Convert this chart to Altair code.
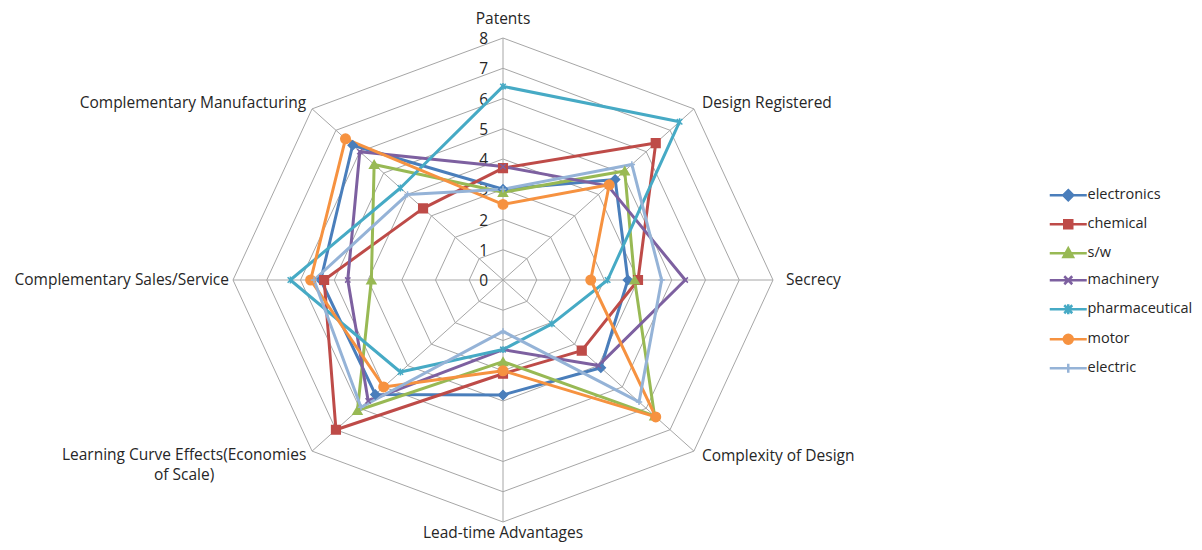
import altair as alt
import pandas as pd
import numpy as np

# ---------------- data ----------------
categories = [
    "Patents",
    "Design Registered",
    "Secrecy",
    "Complexity of Design",
    "Lead-time Advantages",
    "Learning Curve Effects(Economies\nof Scale)",
    "Complementary Sales/Service",
    "Complementary Manufacturing",
]
series = ["electronics", "chemical", "s/w", "machinery", "pharmaceutical", "motor", "electric"]

electronics = [3.0, 4.7, 3.7, 4.1, 3.8, 5.35, 5.4, 6.3]
chemical = [3.7, 6.4, 4.0, 3.3, 3.1, 7.0, 5.3, 3.35]
software = [2.9, 5.1, 3.9, 6.35, 2.7, 6.1, 3.9, 5.4]
machinery = [3.75, 4.4, 5.4, 4.0, 2.3, 5.65, 4.6, 6.0]
pharmaceutical = [6.4, 7.4, 3.1, 2.05, 2.3, 4.3, 6.3, 4.3]
motor = [2.5, 4.45, 2.6, 6.4, 3.0, 5.0, 5.7, 6.6]
electric = [3.0, 5.4, 4.7, 5.7, 1.7, 5.95, 5.6, 4.0]
series_values = [electronics, chemical, software, machinery, pharmaceutical, motor, electric]

ticks = [0, 1, 2, 3, 4, 5, 6, 7, 8]

# ---------------- style ----------------
colors = ["#4A7EBB", "#BE4B48", "#98B954", "#7D60A0", "#46AAC5", "#F69240", "#95B3D7"]
FONT = "Open Sans"
FS = 15.5
LFS = 14.5
TEXT = "#262626"
GRID = "#A6A6A6"

X_PATH = "M-1,-1L1,1M-1,1L1,-1"
STAR_PATH = "M-1,-1L1,1M-1,1L1,-1M0,-1.25L0,1.25"
PLUS_PATH = "M0,-1.2L0,1.2M-1.2,0L1.2,0"
marker_shape = ["diamond", "square", "triangle-up", X_PATH, STAR_PATH, "circle", PLUS_PATH]
marker_size = [80, 75, 80, 28, 30, 90, 28]

LINE = "M-3.7,0L3.7,0"
legend_paths = [
    LINE + "M0,-1L1,0L0,1L-1,0Z",
    LINE + "M-0.8,-0.8H0.8V0.8H-0.8Z",
    LINE + "M0,-1L0.95,0.75H-0.95Z",
    LINE + "M-0.8,-0.8L0.8,0.8M-0.8,0.8L0.8,-0.8",
    LINE + "M-0.8,-0.8L0.8,0.8M-0.8,0.8L0.8,-0.8M0,-1L0,1",
    LINE + "M-0.9,0A0.9,0.9 0 1,0 0.9,0A0.9,0.9 0 1,0 -0.9,0Z",
    LINE + "M0,-0.9L0,0.9",
]

# ---------------- tables ----------------
n = len(categories)
angles = [np.pi / 2 - k * 2 * np.pi / n for k in range(n)]

rows = []
for si, (s, vals) in enumerate(zip(series, series_values)):
    for k in range(n + 1):
        kk = k % n
        r = vals[kk]
        rows.append({"series": s, "k": k, "r": r,
                     "x": r * np.cos(angles[kk]), "y": r * np.sin(angles[kk]),
                     "shp": marker_shape[si], "msize": marker_size[si]})
sdf = pd.DataFrame(rows)
pdf = sdf[sdf["k"] < n]

grid_rows = []
for lv in ticks[1:]:
    for k in range(n + 1):
        kk = k % n
        grid_rows.append({"level": lv, "k": k,
                          "x": lv * np.cos(angles[kk]), "y": lv * np.sin(angles[kk])})
gdf = pd.DataFrame(grid_rows)

rmax = ticks[-1]
spoke_df = pd.DataFrame({
    "cat": categories,
    "x0": [0.0] * n, "y0": [0.0] * n,
    "x": [rmax * np.cos(a) for a in angles],
    "y": [rmax * np.sin(a) for a in angles],
})
tick_df = pd.DataFrame({"t": ticks, "x": [0.0] * len(ticks), "y": [float(t) for t in ticks]})
leg_df = pd.DataFrame({"series": series})

# ---------------- scales ----------------
xs = alt.Scale(domain=[-rmax, rmax], nice=False, zero=False)
ys = alt.Scale(domain=[-rmax, rmax], nice=False, zero=False)
cs = alt.Scale(domain=series, range=colors)

LEG = alt.Legend(
    title=None, orient="none", legendX=828, legendY=150,
    symbolSize=100, symbolStrokeWidth=2.5, labelOffset=12, rowPadding=9,
    labelFont=FONT, labelFontSize=LFS, labelColor=TEXT, padding=0,
)

X = alt.X("x:Q", scale=xs, axis=None)
Y = alt.Y("y:Q", scale=ys, axis=None)

grid = alt.Chart(gdf).mark_line(color=GRID, strokeWidth=1).encode(
    x=X, y=Y, detail="level:N", order="k:Q")

spokes = alt.Chart(spoke_df).mark_rule(color=GRID, strokeWidth=1).encode(
    x=alt.X("x0:Q", scale=xs, axis=None), y=alt.Y("y0:Q", scale=ys, axis=None),
    x2="x:Q", y2="y:Q")

tick_text = alt.Chart(tick_df).mark_text(
    align="right", baseline="middle", dx=-15, dy=1, font=FONT, fontSize=FS, color=TEXT
).encode(x=X, y=Y, text="t:N")

label_style = [
    dict(align="center", baseline="middle", dx=0, dy=-19),
    dict(align="left", baseline="middle", dx=8, dy=-6),
    dict(align="left", baseline="middle", dx=13, dy=0),
    dict(align="left", baseline="middle", dx=8, dy=5),
    dict(align="center", baseline="middle", dx=0, dy=11),
    dict(align="center", baseline="middle", dx=-128, dy=4),
    dict(align="right", baseline="middle", dx=-4, dy=0),
    dict(align="right", baseline="middle", dx=-6, dy=-6),
]
labels = []
for ci, st in enumerate(label_style):
    labels.append(
        alt.Chart(spoke_df.iloc[[ci]]).mark_text(
            font=FONT, fontSize=FS, color=TEXT, lineBreak="\n", lineHeight=20, **st
        ).encode(x=X, y=Y, text="cat:N")
    )

lines = alt.Chart(sdf).mark_line(strokeWidth=3, strokeJoin="round").encode(
    x=X, y=Y, color=alt.Color("series:N", scale=cs, legend=LEG),
    order="k:Q", detail="series:N")

points = alt.Chart(pdf).mark_point(filled=True, opacity=1, strokeWidth=1.5).encode(
    x=X, y=Y,
    color=alt.Color("series:N", scale=cs, legend=LEG),
    stroke=alt.Stroke("series:N", scale=alt.Scale(domain=series, range=colors), legend=LEG),
    shape=alt.Shape("shp:N", scale=None),
    size=alt.Size("msize:Q", scale=None),
)

legend_layer = alt.Chart(leg_df).transform_filter("false").mark_point(filled=True).encode(
    x=alt.value(0), y=alt.value(0),
    color=alt.Color("series:N", scale=cs, legend=LEG),
    shape=alt.Shape("series:N", scale=alt.Scale(domain=series, range=legend_paths), legend=LEG),
)

chart = alt.layer(grid, spokes, tick_text, *labels, lines, points, legend_layer).properties(
    width=540, height=484,
    autosize=alt.AutoSizeParams(type="none"),
    padding={"left": 225, "top": 30, "right": 421, "bottom": 20},
    background="white",
).configure_view(stroke=None)

chart.save("out.html", embed_options={"renderer": "svg", "actions": False})
